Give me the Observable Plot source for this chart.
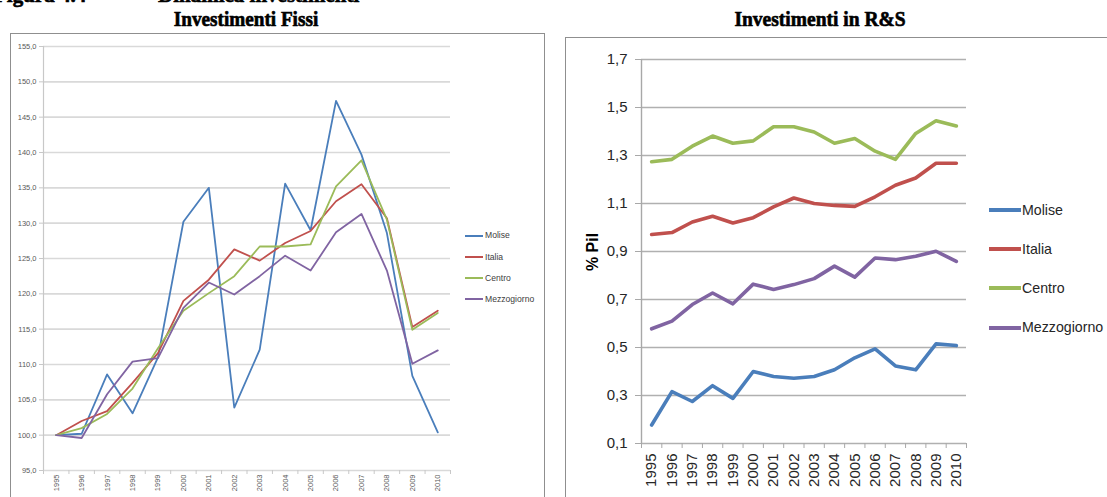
<!DOCTYPE html>
<html>
<head>
<meta charset="utf-8">
<script src="https://cdn.jsdelivr.net/npm/d3@7"></script>
<script src="https://cdn.jsdelivr.net/npm/@observablehq/plot@0.6"></script>
<style>
  body { margin: 0; background: #fff; }
  #page { position: relative; width: 1107px; height: 497px; overflow: hidden; background: #fff; }
  .abs { position: absolute; white-space: pre; }
  .serif { font-family: "Liberation Serif", "Times New Roman", serif; font-weight: 700; color: #000; line-height: 1; -webkit-text-stroke: 0.6px #000; }
  .frame { position: absolute; border: 1.5px solid #8f8f8f; box-sizing: border-box; }
  .leg { position: absolute; display: flex; align-items: center; font-family: "Liberation Sans", Arial, sans-serif; line-height: 1; }
  .leg span.sw { display: inline-block; }
</style>
</head>
<body>
<div id="page">
  <div class="frame" style="left:10px; top:33px; width:535px; height:480px;"></div>
  <div class="frame" style="left:565px; top:37px; width:560px; height:480px;"></div>

  <div class="abs serif" style="left:-6px; top:-15px; font-size:21px;">Figura 4.4</div>
  <div class="abs serif" style="left:111px; top:-15px; font-size:21px; transform:scaleX(1.7); transform-origin:left;">—</div>
  <div class="abs serif" style="left:158px; top:-15px; font-size:21px;">Dinamica investimenti</div>

  <div class="abs serif" id="t1" style="left:246px; top:10px; font-size:19.2px; transform:translateX(-50%) scaleY(1.12); transform-origin:center bottom;"></div>
  <div class="abs serif" id="t2" style="left:820px; top:10px; font-size:19.5px; transform:translateX(-50%) scaleY(1.12); transform-origin:center bottom;"></div>

  <div id="chartL" class="abs" style="left:0; top:0;"></div>
  <div id="chartR" class="abs" style="left:560px; top:0;"></div>

  <div id="ylabR" class="abs" style="left:593px; top:252px; transform:translate(-50%,-50%) rotate(-90deg); font-family:'Liberation Sans', Arial, sans-serif; font-weight:700; font-size:16px; color:#000;"></div>

  <div id="legL"></div>
  <div id="legR"></div>
</div>
<script>
// Years on the horizontal axis
const years = [1995, 1996, 1997, 1998, 1999, 2000, 2001, 2002, 2003, 2004, 2005, 2006, 2007, 2008, 2009, 2010];

// Series names and colours
const seriesNames = ["Molise", "Italia", "Centro", "Mezzogiorno"];
const seriesColors = ["#4a7ebb", "#c0504d", "#9bbb59", "#8064a2"];

// Investimenti fissi, indice 1995 = 100
const fissiMolise = [100.0, 100.2, 108.6, 103.1, 111.0, 130.2, 135.0, 103.9, 112.1, 135.6, 129.0, 147.3, 139.7, 128.6, 108.4, 100.4];
const fissiItalia = [100.0, 102.0, 103.4, 107.4, 111.6, 119.0, 122.0, 126.3, 124.7, 127.2, 128.9, 133.1, 135.5, 130.7, 115.3, 117.6];
const fissiCentro = [100.0, 101.0, 103.0, 106.6, 112.3, 117.6, 120.1, 122.5, 126.7, 126.7, 127.0, 135.2, 138.9, 130.5, 114.9, 117.3];
const fissiMezzogiorno = [100.0, 99.6, 105.8, 110.4, 110.9, 118.0, 121.6, 119.9, 122.5, 125.4, 123.3, 128.7, 131.3, 123.3, 110.1, 112.0];

// Investimenti in R&S, % del Pil
const rsMolise = [0.177, 0.316, 0.275, 0.341, 0.288, 0.400, 0.379, 0.372, 0.379, 0.407, 0.457, 0.494, 0.423, 0.407, 0.515, 0.508];
const rsItalia = [0.971, 0.979, 1.023, 1.047, 1.019, 1.041, 1.086, 1.123, 1.100, 1.092, 1.088, 1.128, 1.176, 1.206, 1.268, 1.268];
const rsCentro = [1.274, 1.284, 1.339, 1.381, 1.351, 1.361, 1.420, 1.420, 1.398, 1.351, 1.371, 1.318, 1.284, 1.392, 1.445, 1.423];
const rsMezzogiorno = [0.578, 0.610, 0.679, 0.727, 0.682, 0.764, 0.742, 0.762, 0.787, 0.839, 0.793, 0.873, 0.866, 0.880, 0.901, 0.859];

// Axis ticks
const fissiTicks = [95, 100, 105, 110, 115, 120, 125, 130, 135, 140, 145, 150, 155];
const rsTicks = [0.1, 0.3, 0.5, 0.7, 0.9, 1.1, 1.3, 1.5, 1.7];

// Titles and labels
const titleFissi = "Investimenti Fissi";
const titleRS = "Investimenti in R&S";
const yLabelRS = "% Pil";

document.getElementById("t1").textContent = titleFissi;
document.getElementById("t2").textContent = titleRS;
document.getElementById("ylabR").textContent = yLabelRS;

function toLong(arrays) {
  const rows = [];
  arrays.forEach((vals, i) => vals.forEach((v, j) => rows.push({serie: seriesNames[i], year: years[j], value: v})));
  return rows;
}
const fissi = toLong([fissiMolise, fissiItalia, fissiCentro, fissiMezzogiorno]);
const rs = toLong([rsMolise, rsItalia, rsCentro, rsMezzogiorno]);

// Category boundaries (tick marks sit between the years)
const edges = years.map(y => y - 0.5).concat([years[years.length - 1] + 0.5]);
const xDomain = [edges[0], edges[edges.length - 1]];
const comma = d => d.toFixed(1).replace(".", ",");

const chartL = Plot.plot({
  width: 545, height: 497,
  marginLeft: 43, marginRight: 95, marginTop: 46, marginBottom: 27,
  style: {fontFamily: "'Liberation Sans', Arial, sans-serif", fontSize: "7.5px", color: "#595959", background: "transparent", overflow: "visible"},
  x: {domain: xDomain},
  y: {domain: [95, 155]},
  color: {domain: seriesNames, range: seriesColors},
  marks: [
    Plot.gridY(fissiTicks, {stroke: "#d9d9d9", strokeOpacity: 1, strokeWidth: 1.6}),
    Plot.ruleX([xDomain[0]], {stroke: "#c8c8c8", strokeWidth: 1.2}),
    Plot.axisY(fissiTicks, {tickFormat: comma, tickSize: 4, tickPadding: 3, stroke: "#c8c8c8", label: null}),
    Plot.axisX(edges, {tickFormat: () => "", tickSize: 4, stroke: "#c8c8c8", label: null}),
    Plot.axisX(years, {tickSize: 0, tickPadding: 4, tickRotate: -90, tickFormat: d => String(d), label: null}),
    Plot.line(fissi, {x: "year", y: "value", z: "serie", stroke: "serie", strokeWidth: 1.8, strokeLinejoin: "round"})
  ]
});
document.getElementById("chartL").appendChild(chartL);

const chartR = Plot.plot({
  width: 547, height: 497,
  marginLeft: 81, marginRight: 141, marginTop: 59, marginBottom: 54,
  style: {fontFamily: "'Liberation Sans', Arial, sans-serif", fontSize: "15px", color: "#262626", background: "transparent", overflow: "visible"},
  x: {domain: xDomain},
  y: {domain: [0.1, 1.7]},
  color: {domain: seriesNames, range: seriesColors},
  marks: [
    Plot.gridY(rsTicks, {stroke: "#b0b0b0", strokeOpacity: 1, strokeWidth: 1.6}),
    Plot.ruleX([xDomain[0]], {stroke: "#a8a8a8", strokeWidth: 1.4}),
    Plot.axisY(rsTicks, {tickFormat: comma, tickSize: 6, tickPadding: 8, stroke: "#a8a8a8", label: null}),
    Plot.axisX(edges, {tickFormat: () => "", tickSize: 5, stroke: "#a8a8a8", label: null}),
    Plot.axisX(years, {tickSize: 0, tickPadding: 10, tickRotate: -90, tickFormat: d => String(d), label: null}),
    Plot.line(rs, {x: "year", y: "value", z: "serie", stroke: "serie", strokeWidth: 3.6, strokeLinejoin: "round"})
  ]
});
document.getElementById("chartR").appendChild(chartR);

// Legends
function legend(containerId, opts) {
  const box = document.getElementById(containerId);
  seriesNames.forEach((name, i) => {
    const row = document.createElement("div");
    row.className = "leg";
    row.style.left = opts.x + "px";
    row.style.top = (opts.y0 + i * opts.dy - opts.h / 2) + "px";
    row.style.height = opts.h + "px";
    row.style.fontSize = opts.fontSize + "px";
    row.style.color = opts.color;
    const sw = document.createElement("span");
    sw.className = "sw";
    sw.style.width = opts.sw + "px";
    sw.style.height = opts.lw + "px";
    sw.style.background = seriesColors[i];
    sw.style.marginRight = opts.gap + "px";
    const tx = document.createElement("span");
    tx.textContent = name;
    row.appendChild(sw);
    row.appendChild(tx);
    box.appendChild(row);
  });
}
legend("legL", {x: 465, y0: 235.7, dy: 21.1, h: 12, fontSize: 8.6, color: "#404040", sw: 18, lw: 2, gap: 2});
legend("legR", {x: 989, y0: 210, dy: 39.2, h: 18, fontSize: 14.2, color: "#262626", sw: 32, lw: 4, gap: 1});
</script>
</body>
</html>
